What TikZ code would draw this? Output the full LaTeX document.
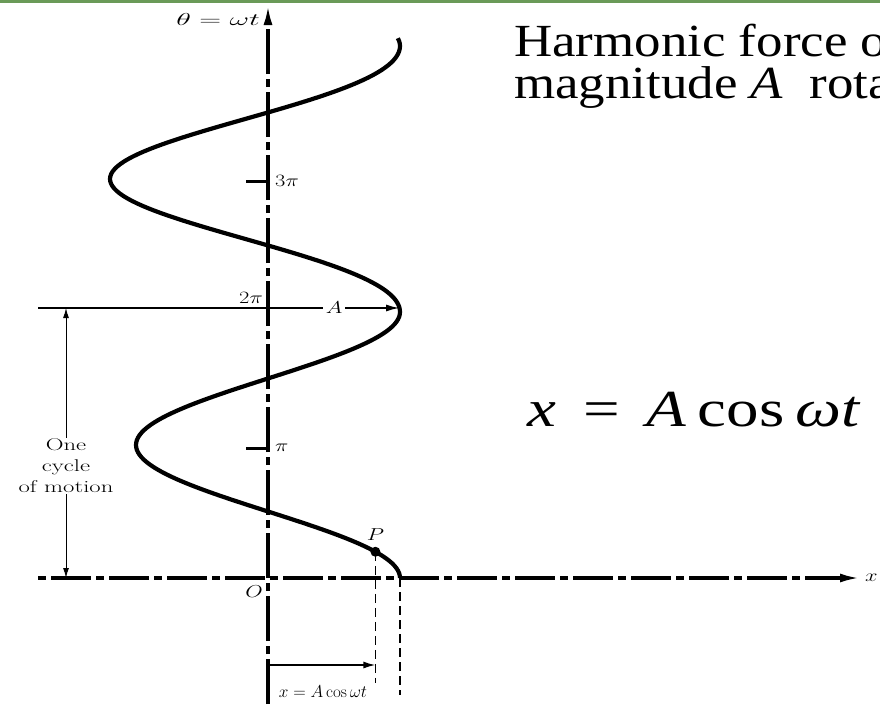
\documentclass[tikz,border=0pt]{standalone}
\usepackage{fontspec}
\usepackage{amsmath}
\usepackage{graphicx}
\usepackage{tikz}
\usetikzlibrary{arrows.meta,positioning,calc}
\newfontfamily\slidefont{Liberation Serif}
\definecolor{SlideGreen}{HTML}{6A9A58}
\newcommand{\wide}[2][1.3]{\scalebox{#1}[1]{#2}}

\begin{document}
\begin{tikzpicture}[x=1pt,y=-1pt,
    declare function={lobe(\t)=max(0,(\t-2*pi)*(4*pi-\t))/(pi*pi);},
    axis/.style={line width=3.2pt},
    wave/.style={line width=4.2pt,line join=round},
    guide/.style={line width=1.6pt,dash pattern=on 9pt off 5pt},
    dimarrow/.style={line width=1pt,-{Latex[length=10pt,width=6pt]}},
    lbl/.style={font=\fontsize{17}{21}\selectfont,inner sep=1pt},
    slide/.style={anchor=base west,inner sep=0pt,font=\slidefont\fontsize{46}{50}\selectfont}]
  \useasboundingbox (0,0) rectangle (880,704);
  \clip (0,0) rectangle (880,704);
  \fill[SlideGreen] (0,0) rectangle (880,2.5);

  % axes
  \coordinate (O) at (268,578);
  \coordinate (ybot) at (268,704);
  \coordinate (ytip) at (268,5);
  \coordinate (xstart) at (38,578);
  \coordinate (xtip) at (860,578);
  \draw[axis,dash pattern=on 45pt off 5pt on 8pt off 5pt,-{Latex[length=20pt,width=9pt]}] (ybot) -- (ytip);
  \draw[axis,dash pattern=on 8pt off 5pt on 40pt off 5pt,-{Latex[length=20pt,width=9pt]}] (xstart) -- (xtip);
  \node[lbl,anchor=west] at (864,578) {\wide{$x$}};
  \node[lbl,anchor=north east] at (264,584) {\wide{$O$}};
  \node[lbl,anchor=east] at (261,19) {\wide[1.75]{$\theta = \omega t$}};

  % ticks
  \coordinate (pi) at (268,448);
  \coordinate (threepi) at (268,181);
  \draw[line width=3pt] (pi) -- ++(-22,0);
  \draw[line width=3pt] (threepi) -- ++(-22,0);
  \node[lbl,anchor=west] at ([xshift=6pt]pi) {\wide{$\pi$}};
  \node[lbl,anchor=west] at ([xshift=6pt]threepi) {\wide{$3\pi$}};

  % one cycle line and amplitude
  \coordinate (twopi) at (268,308);
  \coordinate (lineL) at (38,308);
  \coordinate (crest) at (400,308);
  \coordinate (crest0) at (400,578);
  \draw[line width=2pt] (lineL) -- (twopi);
  \draw[line width=2pt,-{Latex[length=14pt,width=7pt]}] (twopi) -- node[lbl,fill=white,inner sep=3pt] {\wide{$A$}} (crest);
  \node[lbl,anchor=south east] at ([shift={(-4,-3)}]twopi) {\wide{$2\pi$}};

  \node[lbl,align=center] (cycle) at (66,466) {\wide[1.45]{One}\\\wide[1.45]{cycle}\\\wide[1.45]{of motion}};
  \draw[dimarrow] (cycle.north) -- (cycle.north |- lineL);
  \draw[dimarrow] (cycle.south) -- (cycle.south |- O);

  % the harmonic curve
  \draw[wave] plot[domain=0:12.75,samples=220]
    ({268+(132+26*lobe(\x)*lobe(\x))*cos(\x r)},{578-42.34*\x});

  % point P and its projection
  \coordinate (P) at ({268+132*cos(0.62 r)},{578-42.34*0.62});
  \fill (P) circle (5pt);
  \node[lbl,above=10pt of P] {\wide{$P$}};
  \coordinate (dimbase) at (0,683);
  \draw[guide] (P) -- (P |- dimbase);
  \draw[guide] (crest0) -- ++(0,117);
  \coordinate (xarrow) at (268,665);
  \draw[line width=1.6pt,-{Latex[length=12pt,width=7pt]}] (xarrow) -- (xarrow -| P);
  \node[lbl] at (323,692) {$x = A\cos\omega t$};

  % slide text
  \node[slide] (title) at (514,56) {\wide[1.15]{Harmonic force o}};
  \node[slide] (title2) at (514,98) {\wide[1.15]{magnitude \textit{A} \ rota}};
  \node[anchor=west,inner sep=0pt,font=\slidefont\fontsize{52}{56}\selectfont] (law) at (527,410)
    {\wide[1.25]{\textit{x}\,\ =\ \,\textit{A}\,cos\,\textit{ωt}}};
\end{tikzpicture}
\end{document}
